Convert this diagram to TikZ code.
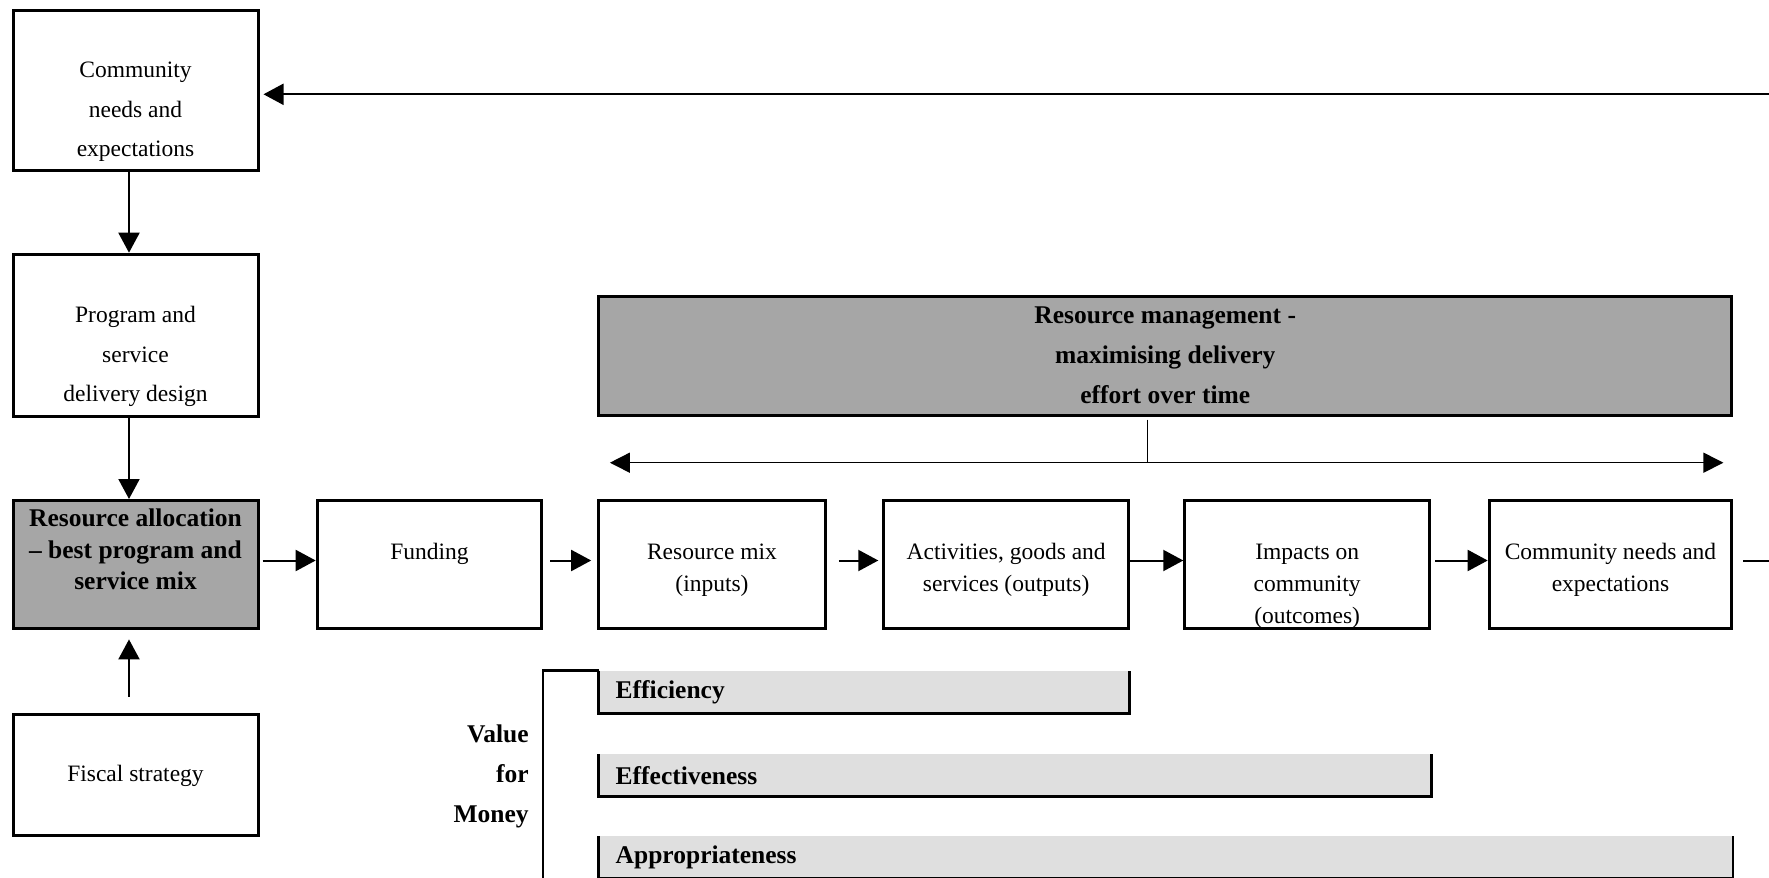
\documentclass[tikz,border=0pt]{standalone}
\usepackage{fontspec}
\setmainfont{Liberation Serif}
\usepackage{tikz}
\usetikzlibrary{arrows.meta}
\usepackage{xcolor}
\definecolor{shadegray}{HTML}{A6A6A6}
\definecolor{bargray}{HTML}{DFDFDF}
\newcommand{\boxtext}[4]{\parbox[c][#1][t]{#2}{\centering\vspace*{#3}\strut#4}}
\tikzstyle{stagebox} = [draw=black, line width=1.5pt, rectangle, inner sep=0pt, font=\fontsize{11.75}{19.75}\selectfont]
\tikzstyle{rowbox} = [stagebox, font=\fontsize{11.75}{16}\selectfont]
\tikzstyle{shadebox} = [stagebox, fill=shadegray, font=\bfseries\fontsize{12.75}{15.75}\selectfont]
\tikzstyle{vfmbar} = [fill=bargray, rectangle, anchor=north west, inner xsep=8.5pt, inner ysep=0pt, outer sep=0pt, minimum height=21.3pt, align=left, font=\bfseries\fontsize{12.75}{15}\selectfont]
\tikzstyle{baredge} = [line width=1.25pt]
\tikzstyle{flow} = [line width=1pt, -{Triangle[length=10pt,width=10.5pt]}]

\begin{document}
\begin{tikzpicture}[x=0.5pt, y=-0.5pt]
\useasboundingbox (0,0) rectangle (1769,878);
\node [stagebox] (commtop) at (135.5,90.5) {\boxtext{80pt}{122.5pt}{19.7pt}{Community\\needs and\\expectations}};
\node [stagebox] (prog) at (135.5,335.2) {\boxtext{81pt}{122.5pt}{20.5pt}{Program and\\service\\delivery design}};
\node [shadebox] (resalloc) at (135.5,564.5) {\boxtext{64pt}{122.5pt}{2.1pt}{Resource allocation\\– best program and\\service mix}};
\node [stagebox] (fiscal) at (135.5,775.3) {\boxtext{60.5pt}{122.5pt}{19.3pt}{Fiscal strategy}};
\node [rowbox] (funding) at (429.55,564.5) {\boxtext{64pt}{112.35pt}{18.2pt}{Funding}};
\node [rowbox] (resmix) at (712,564.5) {\boxtext{64pt}{113.3pt}{18.2pt}{Resource mix\\(inputs)}};
\node [rowbox] (activ) at (1006.15,564.5) {\boxtext{64pt}{122.35pt}{18.2pt}{Activities, goods and\\services (outputs)}};
\node [rowbox] (impacts) at (1307.15,564.5) {\boxtext{64pt}{122.35pt}{18.2pt}{Impacts on\\community\\(outcomes)}};
\node [rowbox] (commout) at (1610.5,564.5) {\boxtext{64pt}{121.3pt}{18.2pt}{Community needs and\\expectations}};
\node [shadebox, font=\bfseries\fontsize{12.75}{20}\selectfont] (resmgmt) at (1165.25,355.85) {\boxtext{59.35pt}{566.55pt}{-0.6pt}{Resource management -\\maximising delivery\\effort over time}};

\coordinate (spanl) at (609.9,462.7);
\coordinate (spanr) at (1723.4,462.7);
\coordinate (spantick) at (1147,462.7);
\draw [line width=0.75pt, {Triangle[length=10pt,width=10pt]}-{Triangle[length=10pt,width=10pt]}] (spanl) -- (spanr);
\draw [line width=0.5pt, shorten <=1.5pt] (spantick |- resmgmt.south) -- (spantick);

\draw [flow] ([xshift=-3.25pt]commtop.south) -- ([xshift=-3.25pt]prog.north);
\draw [flow] ([xshift=-3.25pt]prog.south) -- ([xshift=-3.25pt]resalloc.north);
\draw [flow, shorten <=8.3pt, shorten >=4.7pt] ([xshift=-3.25pt]fiscal.north) -- ([xshift=-3.25pt]resalloc.south);
\draw [flow, shorten <=1.5pt] ([yshift=2pt]resalloc.east) -- ([yshift=2pt]funding.west);
\draw [flow, shorten <=3.3pt, shorten >=3pt] ([yshift=2pt]funding.east) -- ([yshift=2pt]resmix.west);
\draw [flow, shorten <=6pt, shorten >=2pt] ([yshift=2pt]resmix.east) -- ([yshift=2pt]activ.west);
\draw [flow] ([yshift=2pt]activ.east) -- ([yshift=2pt]impacts.west);
\draw [flow, shorten <=2pt] ([yshift=2pt]impacts.east) -- ([yshift=2pt]commout.west);
\coordinate (loopout) at (1769,560.5);
\coordinate (loopin) at (1769,94.3);
\draw [line width=1pt, shorten <=5pt] ([yshift=2pt]commout.east) -- (loopout);
\draw [flow, shorten >=2pt] (loopin) -- (commtop.east |- loopin);

\node [vfmbar, text width=248.3pt] (eff) at (598.7,670.7) {Efficiency};
\node [vfmbar, text width=399.4pt] (effect) at (598.7,754) {Effectiveness};
\node [vfmbar, text width=550.25pt] (approp) at (598.7,836) {Appropriateness};
\foreach \vname in {eff,effect,approp}
  \draw [baredge] (\vname.north west) -- (\vname.south west) -- (\vname.south east) -- (\vname.north east);
\node [anchor=north east, inner sep=0pt, align=right, font=\bfseries\fontsize{12.75}{20}\selectfont] (vfm) at (529,724.3) {Value\\for\\Money};
\coordinate (vfmfoot) at (543,880);
\draw [baredge] (eff.north west) -- (vfmfoot |- eff.north west) -- (vfmfoot);
\end{tikzpicture}
\end{document}
